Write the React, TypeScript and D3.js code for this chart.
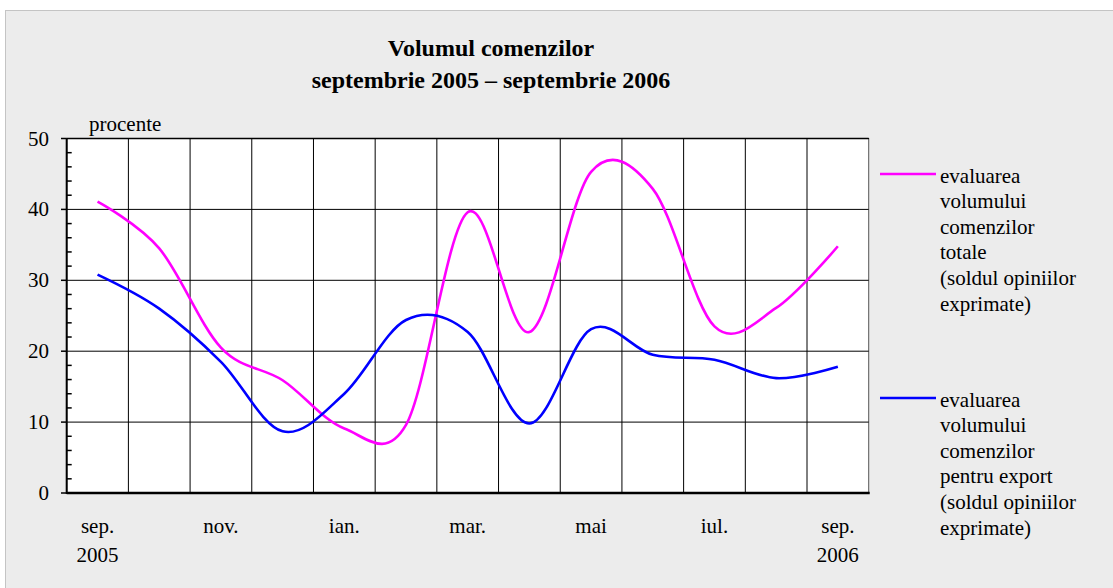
import React from "react";
import * as d3 from "d3";

const months = ["sep05", "oct", "nov", "dec", "ian", "feb", "mar", "apr", "mai", "iun", "iul", "aug", "sep06"];
const monthLabels = ["sep.", "", "nov.", "", "ian.", "", "mar.", "", "mai", "", "iul.", "", "sep."];
const yearLabels = ["2005", "", "", "", "", "", "", "", "", "", "", "", "2006"];
const totale = [41.1, 34.5, 20.5, 15.9, 9.1, 9.6, 39.6, 22.7, 45.3, 42.9, 23.5, 26.1, 34.8];
const export_ = [30.8, 26.0, 18.5, 8.7, 14.0, 24.4, 22.7, 9.8, 23.1, 19.5, 18.8, 16.2, 17.8];
const yTicks = [0, 10, 20, 30, 40, 50];
const legendTotale = ["evaluarea", "volumului", "comenzilor", "totale", "(soldul opiniilor", "exprimate)"];
const legendExport = ["evaluarea", "volumului", "comenzilor", "pentru export", "(soldul opiniilor", "exprimate)"];

const W = 1113;
const H = 588;
const left = 66.7;
const right = 868.7;
const top = 138.5;
const bottom = 493;
const font = "Liberation Serif, Times New Roman, serif";

export default function App() {
  const x = d3.scaleBand<string>().domain(months).range([left, right]).paddingInner(0).paddingOuter(0);
  const y = d3.scaleLinear().domain([0, 50]).range([bottom, top]);
  const cx = (m: string) => (x(m) as number) + x.bandwidth() / 2;

  const line = d3
    .line<number>()
    .x((_, i) => cx(months[i]))
    .y(d => y(d))
    .curve(d3.curveCardinal.tension(0));

  const minor = d3.range(0, 51, 2).filter(v => v % 10 !== 0);

  return (
    <svg width={W} height={H} style={{ position: "absolute", left: 0, top: 0, fontFamily: font }}>
      <rect x={0} y={0} width={W} height={H} fill="#fff" />
      <rect x={5.5} y={10.5} width={W} height={H} fill="#ececec" stroke="#c4c4c4" />

      <text x={491} y={56} textAnchor="middle" fontSize={24} fontWeight="bold">Volumul comenzilor</text>
      <text x={491} y={88} textAnchor="middle" fontSize={24} fontWeight="bold">septembrie 2005 – septembrie 2006</text>
      <text x={89} y={131} fontSize={21}>procente</text>

      <rect x={left} y={top} width={right - left} height={bottom - top} fill="#fff" stroke="#555" />

      {yTicks.map(t => (
        <g key={t}>
          <line x1={left} x2={right} y1={y(t)} y2={y(t)} stroke="#000" strokeWidth={1} />
          <line x1={61} x2={left} y1={y(t)} y2={y(t)} stroke="#000" strokeWidth={1.5} />
          <text x={49} y={y(t) + 7} textAnchor="end" fontSize={21}>{t}</text>
        </g>
      ))}
      {minor.map(t => (
        <line key={t} x1={left} x2={left + 5} y1={y(t)} y2={y(t)} stroke="#000" strokeWidth={1.5} />
      ))}
      {months.slice(1).map(m => (
        <line key={m} x1={x(m)} x2={x(m)} y1={top} y2={bottom} stroke="#000" strokeWidth={1} />
      ))}
      <line x1={left} x2={left} y1={top} y2={bottom + 1} stroke="#000" strokeWidth={2} />
      <line x1={left} x2={right + 1} y1={bottom} y2={bottom} stroke="#000" strokeWidth={2.5} />
      <line x1={left} x2={right} y1={top} y2={top} stroke="#000" strokeWidth={1.5} />

      {months.map((m, i) => (
        <g key={m}>
          {monthLabels[i] && <text x={cx(m)} y={533} textAnchor="middle" fontSize={21}>{monthLabels[i]}</text>}
          {yearLabels[i] && <text x={cx(m)} y={562} textAnchor="middle" fontSize={21}>{yearLabels[i]}</text>}
        </g>
      ))}

      <path d={line(totale) || ""} fill="none" stroke="#ff00ff" strokeWidth={2.6} />
      <path d={line(export_) || ""} fill="none" stroke="#0000ff" strokeWidth={2.6} />

      <line x1={880} x2={936} y1={174} y2={174} stroke="#ff00ff" strokeWidth={2.6} />
      {legendTotale.map((t, i) => (
        <text key={i} x={940} y={182.5 + i * 25.6} fontSize={21}>{t}</text>
      ))}
      <line x1={880} x2={936} y1={398} y2={398} stroke="#0000ff" strokeWidth={2.6} />
      {legendExport.map((t, i) => (
        <text key={i} x={940} y={406.5 + i * 25.6} fontSize={21}>{t}</text>
      ))}
    </svg>
  );
}
